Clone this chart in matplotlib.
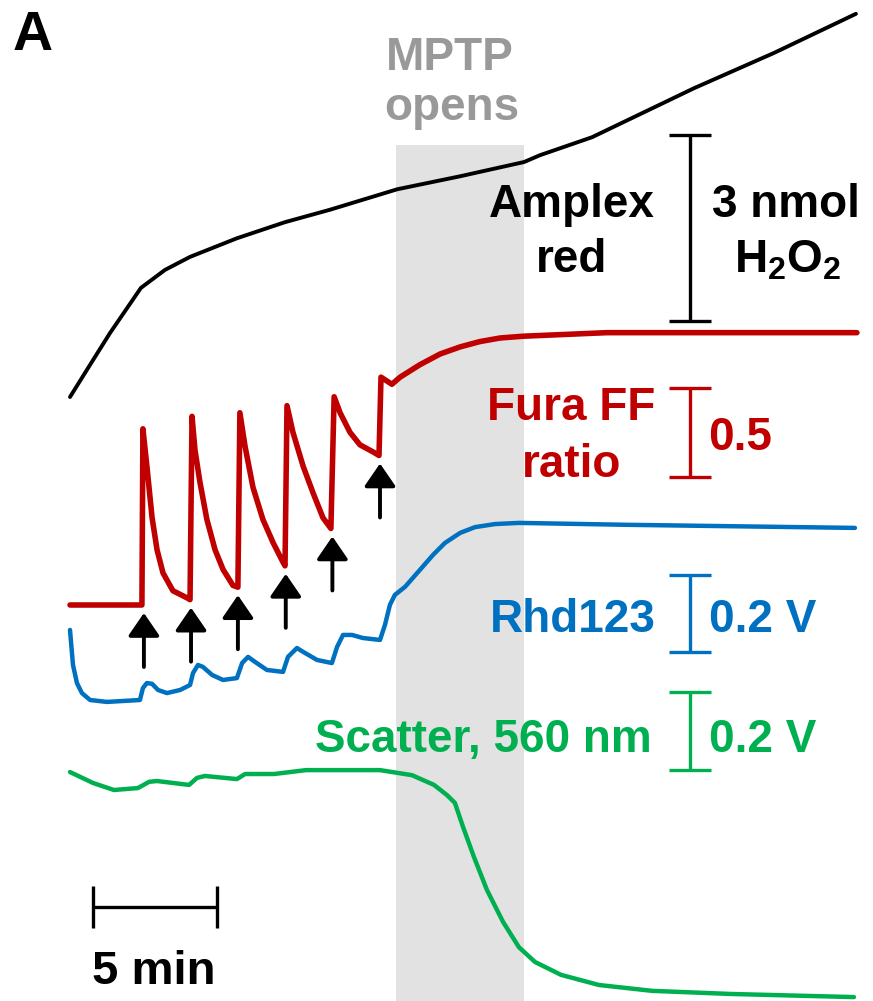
import numpy as np
import matplotlib
matplotlib.use("Agg")
import matplotlib.pyplot as plt
import matplotlib.transforms as mtransforms

plt.rcParams['font.family'] = ['Liberation Sans', 'DejaVu Sans']
plt.rcParams['font.weight'] = 'bold'
plt.rcParams['mathtext.fontset'] = 'custom'
plt.rcParams['mathtext.rm'] = 'Liberation Sans:bold'
plt.rcParams['mathtext.it'] = 'Liberation Sans:bold'
plt.rcParams['mathtext.bf'] = 'Liberation Sans:bold'

# ---------------- data (time in min) ----------------
amplex_t = [0.00, 0.81, 1.61, 2.86, 3.83, 4.84, 6.73, 8.67, 10.48, 13.19,
            15.73, 18.31, 18.95, 21.05, 25.16, 28.39, 31.69]
amplex_nmol = [0.00, 0.52, 1.03, 1.76, 2.05, 2.26, 2.56, 2.82, 3.02, 3.35,
               3.56, 3.79, 3.90, 4.19, 4.98, 5.55, 6.18]

fura_t = [0.00, 2.90, 2.94, 3.10, 3.31, 3.51, 3.75, 4.15, 4.72, 4.84,
          4.92, 5.04, 5.24, 5.52, 5.85, 6.17, 6.57, 6.77,
          6.85, 7.06, 7.38, 7.78, 8.19, 8.59, 8.67,
          8.75, 8.99, 9.40, 9.80, 10.20, 10.52,
          10.65, 10.89, 11.29, 11.69, 12.22, 12.46,
          12.54, 12.98, 13.31, 14.11, 14.92, 15.73, 16.53, 17.34, 18.27,
          21.65, 31.73]
fura_ratio = [0.00, 0.00, 0.99, 0.78, 0.49, 0.31, 0.18, 0.08, 0.04, 0.03,
              1.06, 0.87, 0.69, 0.48, 0.31, 0.20, 0.11, 0.10,
              1.08, 0.89, 0.66, 0.48, 0.35, 0.24, 0.22,
              1.12, 0.97, 0.78, 0.63, 0.49, 0.43,
              1.17, 1.08, 0.97, 0.90, 0.86, 0.84,
              1.28, 1.24, 1.28, 1.35, 1.41, 1.45, 1.48, 1.50, 1.51,
              1.53, 1.53]

rhd_t = [0.00, 0.12, 0.28, 0.48, 0.81, 1.49, 2.82, 2.94, 3.10, 3.31,
         3.55, 3.91, 4.44, 4.84, 4.96, 5.16, 5.36, 5.73, 6.17, 6.73,
         6.94, 7.18, 7.46, 7.94, 8.59, 8.79, 9.15, 9.40, 9.96, 10.56,
         10.77, 11.01, 11.37, 11.81, 12.50, 12.70, 12.90, 13.10, 13.51, 14.11,
         14.64, 15.12, 15.73, 16.33, 17.14, 18.10, 22.50, 31.65]
rhd_v = [0.182, 0.091, 0.044, 0.018, 0.000, -0.005, 0.000, 0.031, 0.044, 0.042,
         0.026, 0.018, 0.026, 0.039, 0.070, 0.091, 0.086, 0.065, 0.052, 0.057,
         0.096, 0.112, 0.099, 0.078, 0.073, 0.112, 0.135, 0.125, 0.104, 0.096,
         0.138, 0.169, 0.169, 0.161, 0.156, 0.195, 0.247, 0.273, 0.294, 0.338,
         0.377, 0.408, 0.434, 0.449, 0.457, 0.460, 0.455, 0.447]

scatter_t = [0.00, 0.93, 1.77, 2.74, 3.19, 3.51, 4.80, 5.12, 5.44, 6.73,
             7.06, 8.23, 8.87, 9.52, 11.65, 12.50, 13.79, 14.68, 15.20, 15.52,
             15.85, 16.29, 16.81, 17.46, 18.10, 18.75, 19.80, 21.33, 23.47, 26.65,
             31.61]
scatter_v = [0.046, 0.018, 0.000, 0.005, 0.021, 0.023, 0.013, 0.031, 0.036, 0.028,
             0.041, 0.041, 0.046, 0.051, 0.051, 0.051, 0.038, 0.013, -0.013, -0.033,
             -0.095, -0.172, -0.256, -0.338, -0.403, -0.441, -0.474, -0.500, -0.515, -0.523,
             -0.531]

addition_t = [2.98, 4.88, 6.77, 8.70, 10.58, 12.50]
mptp_window = [13.15, 18.31]

# ---------------- layout ----------------
W, H = 873, 1001
PX_PER_MIN = 24.8
X0 = 70
fig = plt.figure(figsize=(W / 100, H / 100), dpi=100)
ax = fig.add_axes([0, 0, 1, 1])
ax.set_xlim(-X0 / PX_PER_MIN, (W - X0) / PX_PER_MIN)
ax.set_ylim(H, 0)
ax.axis('off')

# vertical placement of each trace (row of its zero, rows per unit)
AMP_BASE, AMP_GAIN = 397, 62.0
FURA_BASE, FURA_GAIN = 605, 178.0
RHD_BASE, RHD_GAIN = 700, 385.0
SCAT_BASE, SCAT_GAIN = 790, 390.0

BLACK = '#000000'
RED = '#c00000'
BLUE = '#0070c0'
GREEN = '#00b050'
GREY_TXT = '#999999'
GREY_BG = '#e2e2e2'


def rows(v, base, gain):
    return base - np.asarray(v, dtype=float) * gain


# MPTP window shading
ax.axvspan(mptp_window[0], mptp_window[1], ymin=0, ymax=1 - 145 / H,
           color=GREY_BG, lw=0, zorder=0)

style = dict(solid_joinstyle='round', solid_capstyle='round', zorder=3)
ax.plot(amplex_t, rows(amplex_nmol, AMP_BASE, AMP_GAIN), color=BLACK, lw=2.8, **style)
ax.plot(fura_t, rows(fura_ratio, FURA_BASE, FURA_GAIN), color=RED, lw=4.0, **style)
ax.plot(rhd_t, rows(rhd_v, RHD_BASE, RHD_GAIN), color=BLUE, lw=3.2, **style)
ax.plot(scatter_t, rows(scatter_v, SCAT_BASE, SCAT_GAIN), color=GREEN, lw=3.2, **style)

# Ca2+ addition arrows under each trough
ft = np.asarray(fura_t)
fr = np.asarray(fura_ratio)
for ta in addition_t:
    sel = np.abs(ft - ta) < 0.12
    trough = fr[sel].min()
    tip = rows(trough, FURA_BASE, FURA_GAIN) + 8
    ax.annotate('', xy=(ta, tip), xytext=(ta, tip + 54),
                arrowprops=dict(arrowstyle='-|>,head_length=0.7,head_width=0.48',
                                color=BLACK, lw=2.8, shrinkA=0, shrinkB=0,
                                mutation_scale=20), zorder=4)

# scale bars
BAR_T = 25.0


def vbar(top, length, color):
    ax.errorbar([BAR_T], [top + length / 2], yerr=[[length / 2]], color=color,
                lw=2.4, capsize=15, capthick=2.4, zorder=4)


vbar(135, 3 * AMP_GAIN, BLACK)
vbar(388, 0.5 * FURA_GAIN, RED)
vbar(575, 0.2 * RHD_GAIN, BLUE)
vbar(692, 0.2 * SCAT_GAIN, GREEN)

ax.errorbar([0.93 + 2.5], [907], xerr=[[2.5]], color=BLACK, lw=2.4,
            capsize=14.8, capthick=2.4, zorder=4)

# text in pixel coordinates
px = mtransforms.Affine2D().scale(1 / W, -1 / H).translate(0, 1) + fig.transFigure
FS = 33


def label(x, y, s, color, ha='center', fs=FS):
    fig.text(x, y, s, transform=px, color=color, ha=ha, va='baseline',
             fontsize=fs, fontweight='bold')


label(13, 50, 'A', BLACK, ha='left', fs=40)
label(450, 70, 'MPTP', GREY_TXT)
label(452, 120, 'opens', GREY_TXT)
label(572, 217, 'Amplex', BLACK)
label(572, 272, 'red', BLACK)
label(786, 217, '3 nmol', BLACK)
label(788, 272, r'H$_2$O$_2$', BLACK)
label(571, 420, 'Fura FF', RED)
label(572, 477, 'ratio', RED)
label(708, 450, '0.5', RED, ha='left')
label(656, 632, 'Rhd123', BLUE, ha='right')
label(709, 632, '0.2 V', BLUE, ha='left')
label(652, 752, 'Scatter, 560 nm', GREEN, ha='right')
label(709, 752, '0.2 V', GREEN, ha='left')
label(154, 984, '5 min', BLACK, fs=34)

fig.savefig('out.png', dpi=100)
